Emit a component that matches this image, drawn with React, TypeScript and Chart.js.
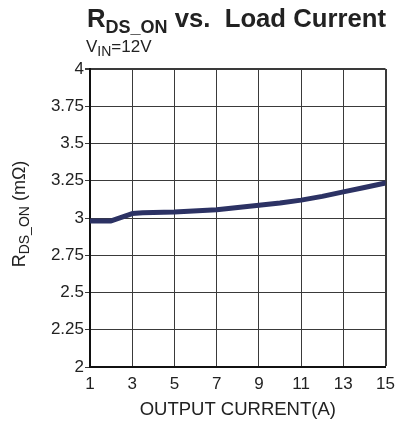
import React, { useEffect, useRef } from "react";
import { Chart, registerables } from "chart.js";
Chart.register(...registerables);

const currents = [1, 2, 3, 3.5, 5, 7, 8, 9, 10, 11, 12, 13, 14, 15];
const rdsOn = [2.98, 2.98, 3.03, 3.035, 3.04, 3.055, 3.07, 3.085, 3.1, 3.12, 3.145, 3.175, 3.205, 3.235];
const yTicks = [2, 2.25, 2.5, 2.75, 3, 3.25, 3.5, 3.75, 4];
const yTickLabels = ["2", "2.25", "2.5", "2.75", "3", "3.25", "3.5", "3.75", "4"];

const FONT = "'Liberation Sans', Arial, Helvetica, sans-serif";

export default function App() {
  const ref = useRef<HTMLCanvasElement | null>(null);
  useEffect(() => {
    document.body.style.margin = "0";
    const ctx = ref.current!;
    const chart = new Chart(ctx, {
      type: "line",
      data: {
        datasets: [
          {
            data: currents.map((x, i) => ({ x, y: rdsOn[i] })),
            borderColor: "#2c3264",
            borderWidth: 5,
            pointRadius: 0,
            tension: 0,
            borderCapStyle: "round",
            borderJoinStyle: "round",
          },
        ],
      },
      options: {
        animation: false,
        responsive: false,
        maintainAspectRatio: false,
        layout: { padding: { left: 0, right: 15, top: 69, bottom: 0 } },
        plugins: { legend: { display: false }, tooltip: { enabled: false } },
        scales: {
          x: {
            type: "linear",
            min: 1,
            max: 15,
            ticks: { stepSize: 2, color: "#222", font: { family: FONT, size: 17 }, padding: 7 },
            grid: {
              drawTicks: false,
              color: "#3a3a3a",
              lineWidth: (c: any) => (c.index === 7 ? 2 : 1),
            },
            border: { color: "#111", width: 2 },
            title: {
              display: true,
              text: "OUTPUT CURRENT(A)",
              color: "#222",
              font: { family: FONT, size: 18.5 },
              padding: { top: 0, bottom: 2 },
            },
            afterFit: (s: any) => {
              s.height = 56;
            },
          },
          y: {
            type: "linear",
            min: 2,
            max: 4,
            afterBuildTicks: (s: any) => {
              s.ticks = yTicks.map((v) => ({ value: v }));
            },
            ticks: {
              color: "#222",
              font: { family: FONT, size: 17 },
              padding: 1,
              callback: (_v: any, i: number) => yTickLabels[i],
            },
            grid: {
              tickLength: 5,
              color: "#3a3a3a",
              lineWidth: (c: any) => (c.index === 8 ? 2 : 1),
            },
            border: { color: "#111", width: 2 },
            afterFit: (s: any) => {
              s.width = 90;
            },
          },
        },
      },
    });
    return () => chart.destroy();
  }, []);

  return (
    <div style={{ position: "fixed", left: 0, top: 0, width: 402, height: 423, background: "#fff", fontFamily: FONT, color: "#222" }}>
      <canvas ref={ref} width={402} height={423} style={{ position: "absolute", left: 0, top: 0 }} />
      <div style={{ position: "absolute", left: 87, top: 3, fontSize: 25.7, fontWeight: "bold", whiteSpace: "nowrap", lineHeight: "30px" }}>
        R<sub style={{ fontSize: 18, verticalAlign: "-6px" }}>DS_ON</sub> vs.&nbsp; Load Current
      </div>
      <div style={{ position: "absolute", left: 86, top: 36, fontSize: 17, whiteSpace: "nowrap", lineHeight: "22px" }}>
        V<sub style={{ fontSize: 14, verticalAlign: "-4px" }}>IN</sub>=12V
      </div>
      <div
        style={{
          position: "absolute",
          left: 19 - 100,
          top: 214 - 11,
          width: 200,
          height: 22,
          lineHeight: "22px",
          textAlign: "center",
          fontSize: 18,
          whiteSpace: "nowrap",
          transform: "rotate(-90deg)",
        }}
      >
        R<sub style={{ fontSize: 14, verticalAlign: "-4px" }}>DS_ON</sub> (mΩ)
      </div>
    </div>
  );
}
